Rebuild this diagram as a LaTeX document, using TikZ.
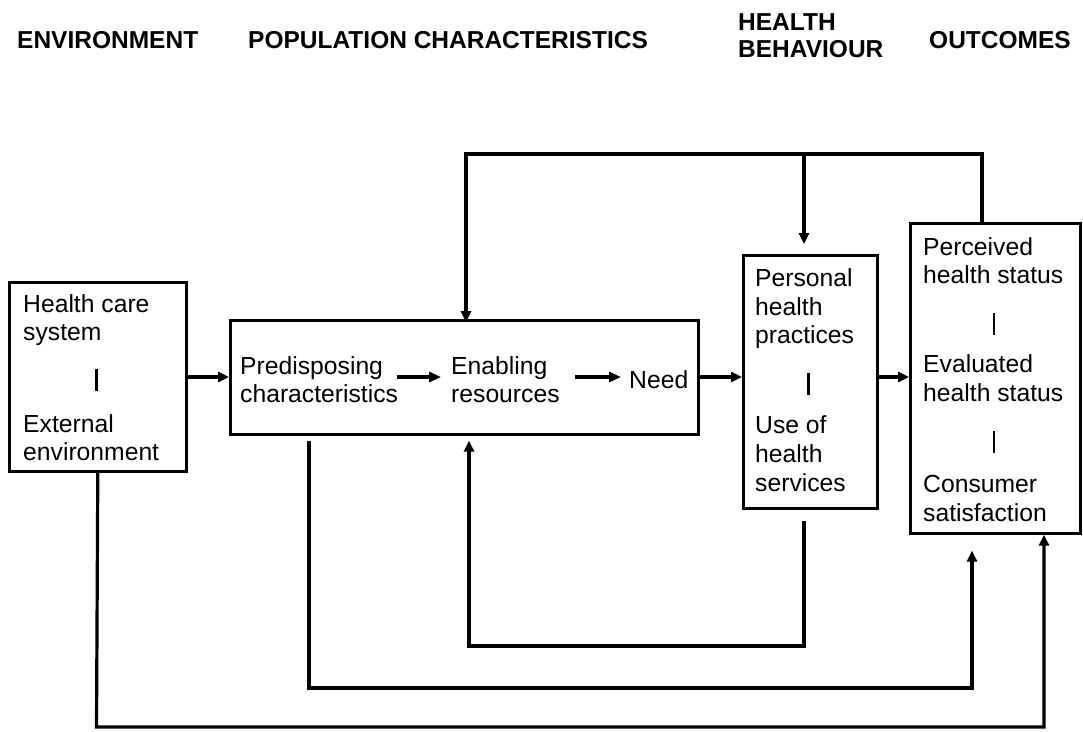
\documentclass[tikz,border=0pt]{standalone}
\usepackage{fontspec}
\setmainfont{Liberation Sans}
\usetikzlibrary{arrows.meta}
\begin{document}
\begin{tikzpicture}[x=1pt,y=-1pt,
  box/.style={draw, line width=2.6pt, inner sep=0pt, anchor=north west},
  txt/.style={anchor=base west, inner sep=0pt, font=\fontsize{24.7}{28.5}\selectfont},
  head/.style={anchor=base west, inner sep=0pt, font=\fontsize{24.5}{27}\selectfont\bfseries},
  conn/.style={line width=3.2pt},
  arr/.style={conn, -{Triangle[length=11pt,width=10pt]}},
  inarr/.style={line width=3.8pt, -{Triangle[length=12pt,width=10pt]}},
  sep/.style={line width=2.4pt}]
\useasboundingbox (0,0) rectangle (1083,731);

% column headings
\node[head] (hEnv) at (17,48) {ENVIRONMENT};
\node[head] (hPop) at (248,48) {POPULATION CHARACTERISTICS};
\node[head] (hBeh1) at (738,30) {HEALTH};
\node[head] (hBeh2) at (738,57) {BEHAVIOUR};
\node[head] (hOut) at (929,48) {OUTCOMES};

% boxes
\node[box, minimum width=177pt, minimum height=189pt] (env) at (8,281) {};
\node[box, minimum width=468pt, minimum height=114pt] (pop) at (229,319) {};
\node[box, minimum width=134pt, minimum height=253pt] (pers) at (742,254) {};
\node[box, minimum width=170pt, minimum height=310pt] (outc) at (909,222) {};

% environment box text
\node[txt] (e1) at (23,312) {Health care};
\node[txt] (e2) at (23,340) {system};
\draw[sep] (96.5,369) -- (96.5,391);
\node[txt] (e3) at (23,432) {External};
\node[txt] (e4) at (23,460) {environment};

% population characteristics
\node[txt] (p1) at (240,374) {Predisposing};
\node[txt] (p2) at (240,402) {characteristics};
\node[txt] (n1) at (451,374) {Enabling};
\node[txt] (n2) at (451,402) {resources};
\node[txt] (nd) at (629,388) {Need};
\draw[inarr] (397,377) -- (441,377);
\draw[inarr] (575,377) -- (621,377);

% health behaviour box text
\node[txt] (b1) at (755,286) {Personal};
\node[txt] (b2) at (755,315) {health};
\node[txt] (b3) at (755,343) {practices};
\draw[sep] (808.5,373) -- (808.5,395);
\node[txt] (b4) at (755,433) {Use of};
\node[txt] (b5) at (755,462) {health};
\node[txt] (b6) at (755,491) {services};

% outcomes box text
\node[txt] (o1) at (923,255) {Perceived};
\node[txt] (o2) at (923,283) {health status};
\draw[sep] (994,313) -- (994,335);
\node[txt] (o3) at (923,372) {Evaluated};
\node[txt] (o4) at (923,401) {health status};
\draw[sep] (994,431) -- (994,453);
\node[txt] (o5) at (923,492) {Consumer};
\node[txt] (o6) at (923,521) {satisfaction};

% main flow
\draw[arr] (env.east |- 0,377) -- (pop.west |- 0,377);
\draw[arr] (pop.east |- 0,377) -- (pers.west |- 0,377);
\draw[arr] (pers.east |- 0,377) -- (outc.west |- 0,377);

% feedback from outcomes to the top
\coordinate (tr) at (982,154);
\coordinate (tl) at (466,154);
\coordinate (tm) at (804,154);
\draw[arr] (outc.north -| tr) -- (tr) -- (tl) -- ([yshift=-3pt]pop.north -| tl);
\draw[arr] (tm) -- ([yshift=10pt]pers.north -| tm);

% feedback from use of services back to population
\coordinate (u1) at (804,646);
\coordinate (u2) at (469,646);
\draw[arr] ([yshift=-11pt]pers.south -| u1) -- (u1) -- (u2) -- ([yshift=-5pt]pop.south -| u2);

% population characteristics to outcomes
\coordinate (v1) at (309,688);
\coordinate (v2) at (972,688);
\draw[arr] ([yshift=-5pt]pop.south -| v1) -- (v1) -- (v2) -- ([yshift=-16pt]outc.south -| v2);

% environment to outcomes
\coordinate (w1) at (96.5,727);
\coordinate (w2) at (1044,727);
\draw[arr] (env.south) -- (w1) -- (w2) -- (outc.south -| w2);
\end{tikzpicture}
\end{document}
